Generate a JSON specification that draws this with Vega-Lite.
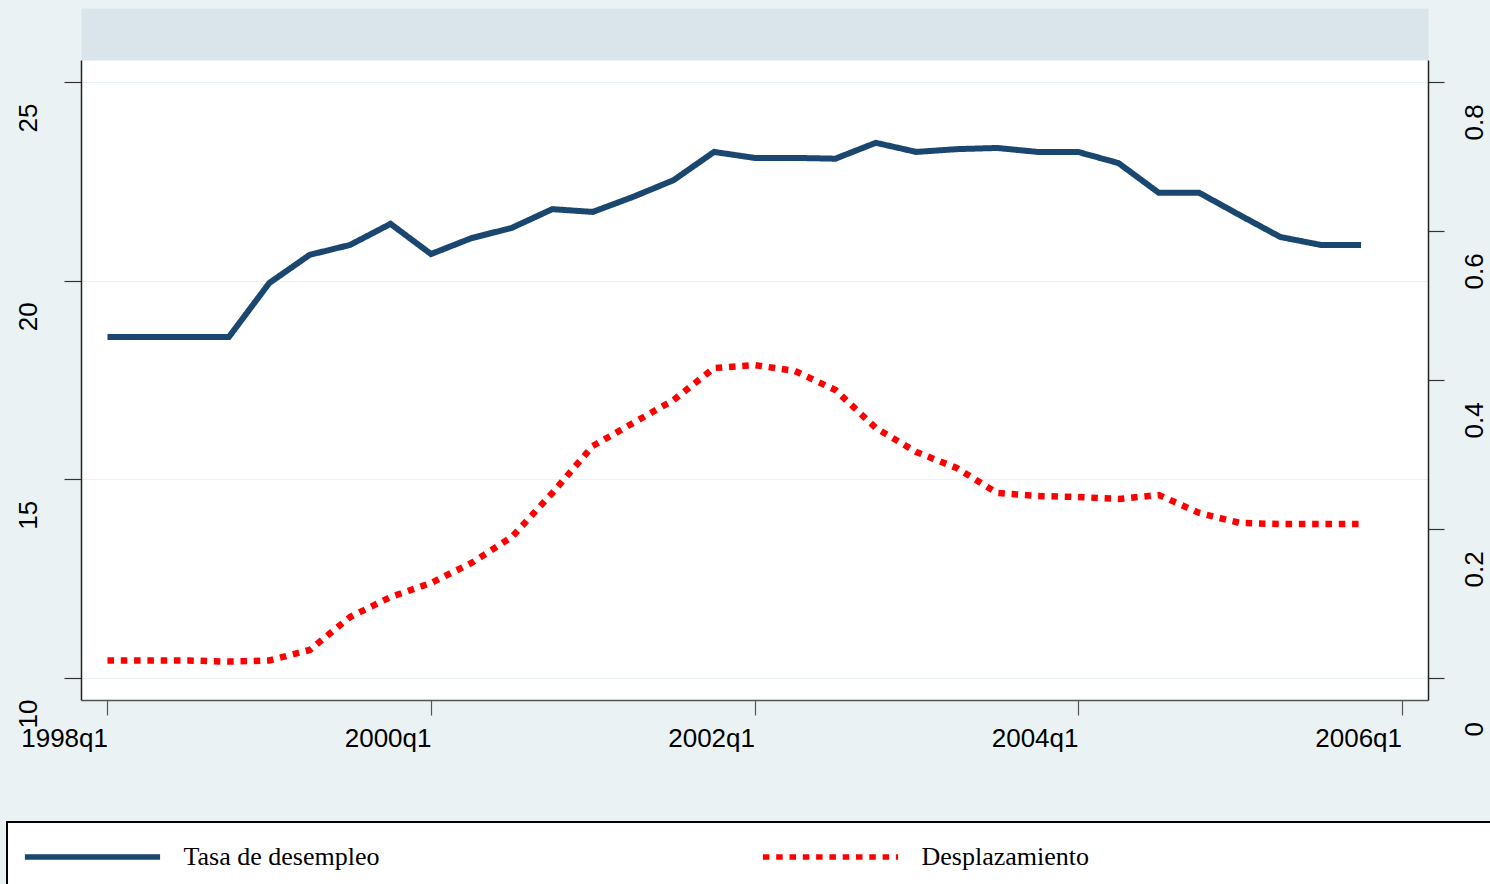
{
  "$schema": "https://vega.github.io/schema/vega-lite/v6.json",
  "autosize": "none",
  "width": 1347,
  "height": 640,
  "padding": {"left": 81, "top": 60, "right": 62, "bottom": 184},
  "background": "#EAF2F3",
  "config": {
    "view": {"fill": "white", "stroke": null},
    "font": "Liberation Sans",
    "axis": {"labelFont": "Liberation Sans", "labelFontSize": 26, "labelColor": "black", "labelFlush": false, "labelOverlap": false, "labelBound": false},
    "legend": {
      "orient": "none", "legendX": -74, "legendY": 762, "direction": "horizontal", "columns": 2, "columnPadding": 371,
      "fillColor": "white", "strokeColor": "black", "strokeWidth": 2, "padding": 19,
      "labelFont": "Liberation Serif", "labelFontSize": 26, "labelColor": "black", "labelOffset": 75, "labelLimit": 4000,
      "symbolType": "M-5.2,0H5.2", "symbolSize": 676, "symbolOffset": 50.5, "symbolStrokeWidth": 5.5
    }
  },
  "data": {"values": [
    {"quarter": "1998q1", "t": 0, "tasa": 18.58, "despl": 0.0235},
    {"quarter": "1998q2", "t": 1, "tasa": 18.58, "despl": 0.0235},
    {"quarter": "1998q3", "t": 2, "tasa": 18.58, "despl": 0.0235},
    {"quarter": "1998q4", "t": 3, "tasa": 18.58, "despl": 0.022},
    {"quarter": "1999q1", "t": 4, "tasa": 19.94, "despl": 0.0235},
    {"quarter": "1999q2", "t": 5, "tasa": 20.65, "despl": 0.0376},
    {"quarter": "1999q3", "t": 6, "tasa": 20.90, "despl": 0.0819},
    {"quarter": "1999q4", "t": 7, "tasa": 21.43, "despl": 0.1087},
    {"quarter": "2000q1", "t": 8, "tasa": 20.67, "despl": 0.1275},
    {"quarter": "2000q2", "t": 9, "tasa": 21.07, "despl": 0.1544},
    {"quarter": "2000q3", "t": 10, "tasa": 21.33, "despl": 0.1893},
    {"quarter": "2000q4", "t": 11, "tasa": 21.80, "despl": 0.2483},
    {"quarter": "2001q1", "t": 12, "tasa": 21.73, "despl": 0.3114},
    {"quarter": "2001q2", "t": 13, "tasa": 22.11, "despl": 0.3423},
    {"quarter": "2001q3", "t": 14, "tasa": 22.53, "despl": 0.3732},
    {"quarter": "2001q4", "t": 15, "tasa": 23.24, "despl": 0.4161},
    {"quarter": "2002q1", "t": 16, "tasa": 23.09, "despl": 0.4201},
    {"quarter": "2002q2", "t": 17, "tasa": 23.09, "despl": 0.4121},
    {"quarter": "2002q3", "t": 18, "tasa": 23.07, "despl": 0.3866},
    {"quarter": "2002q4", "t": 19, "tasa": 23.47, "despl": 0.3356},
    {"quarter": "2003q1", "t": 20, "tasa": 23.24, "despl": 0.3034},
    {"quarter": "2003q2", "t": 21, "tasa": 23.31, "despl": 0.2819},
    {"quarter": "2003q3", "t": 22, "tasa": 23.34, "despl": 0.2483},
    {"quarter": "2003q4", "t": 23, "tasa": 23.24, "despl": 0.2443},
    {"quarter": "2004q1", "t": 24, "tasa": 23.24, "despl": 0.2430},
    {"quarter": "2004q2", "t": 25, "tasa": 22.96, "despl": 0.2403},
    {"quarter": "2004q3", "t": 26, "tasa": 22.21, "despl": 0.2456},
    {"quarter": "2004q4", "t": 27, "tasa": 22.21, "despl": 0.2215},
    {"quarter": "2005q1", "t": 28, "tasa": 21.65, "despl": 0.2081},
    {"quarter": "2005q2", "t": 29, "tasa": 21.10, "despl": 0.2067},
    {"quarter": "2005q3", "t": 30, "tasa": 20.90, "despl": 0.2067},
    {"quarter": "2005q4", "t": 31, "tasa": 20.90, "despl": 0.2067}
  ]},
  "layer": [
    {
      "mark": {"type": "line", "strokeWidth": 6, "strokeJoin": "miter"},
      "encoding": {
        "x": {"field": "t", "type": "quantitative",
          "scale": {"domain": [-0.655, 32.655], "nice": false, "zero": false},
          "axis": {"orient": "bottom", "values": [0, 8, 16, 24, 32],
            "labelExpr": "(1998 + floor(datum.value / 4)) + 'q' + (datum.value % 4 + 1)",
            "title": null, "grid": false, "tickSize": 15, "tickColor": "#555", "tickWidth": 1.2,
            "domainColor": "#555", "domainWidth": 1.5,
            "labelAlign": "right", "labelBaseline": "top", "labelPadding": 10}},
        "y": {"field": "tasa", "type": "quantitative",
          "scale": {"domain": [9.4463, 25.5537], "nice": false, "zero": false},
          "axis": {"orient": "left", "values": [10, 15, 20, 25], "title": null,
            "grid": true, "gridColor": "#EAF2F3", "gridWidth": 1.2,
            "tickSize": 17, "tickColor": "#333", "tickWidth": 1.2, "domainColor": "#222", "domainWidth": 1.5,
            "labelAngle": 270, "labelAlign": "left", "labelBaseline": "alphabetic", "labelOffset": 50, "labelPadding": 28}},
        "color": {"datum": "Tasa de desempleo", "type": "nominal",
          "scale": {"domain": ["Tasa de desempleo", "Desplazamiento"], "range": ["#1A476F", "#FF0000"]},
          "legend": {"title": null, "labelExpr": "datum.label == 'Desplazamiento' ? pad(datum.label, 35, '\u2800') : datum.label"}},
        "strokeDash": {"datum": "Tasa de desempleo", "type": "nominal",
          "scale": {"domain": ["Tasa de desempleo", "Desplazamiento"], "range": [[1, 0], [6.5, 6.8]]},
          "legend": {"title": null, "labelExpr": "datum.label == 'Desplazamiento' ? pad(datum.label, 35, '\u2800') : datum.label"}}
      }
    },
    {
      "mark": {"type": "line", "strokeWidth": 6.5, "strokeCap": "butt"},
      "encoding": {
        "x": {"field": "t", "type": "quantitative",
          "scale": {"domain": [-0.655, 32.655], "nice": false, "zero": false},
          "axis": {"orient": "top", "labels": false, "ticks": false, "grid": false, "title": null,
            "domainColor": "#D9E5EB", "domainWidth": 52, "offset": 26}},
        "y": {"field": "despl", "type": "quantitative",
          "scale": {"domain": [-0.02953, 0.82953], "nice": false, "zero": false},
          "axis": {"orient": "right", "values": [0, 0.2, 0.4, 0.6, 0.8], "format": ".1~f", "title": null,
            "grid": false, "tickSize": 16, "tickColor": "#333", "tickWidth": 1.2, "domainColor": "#222", "domainWidth": 1.5,
            "labelAngle": 270, "labelAlign": "left", "labelBaseline": "alphabetic", "labelOffset": 58, "labelPadding": 38}},
        "color": {"datum": "Desplazamiento", "type": "nominal"},
        "strokeDash": {"datum": "Desplazamiento", "type": "nominal"}
      }
    }
  ],
  "resolve": {"scale": {"y": "independent"}, "axis": {"x": "independent", "y": "independent"}}
}
